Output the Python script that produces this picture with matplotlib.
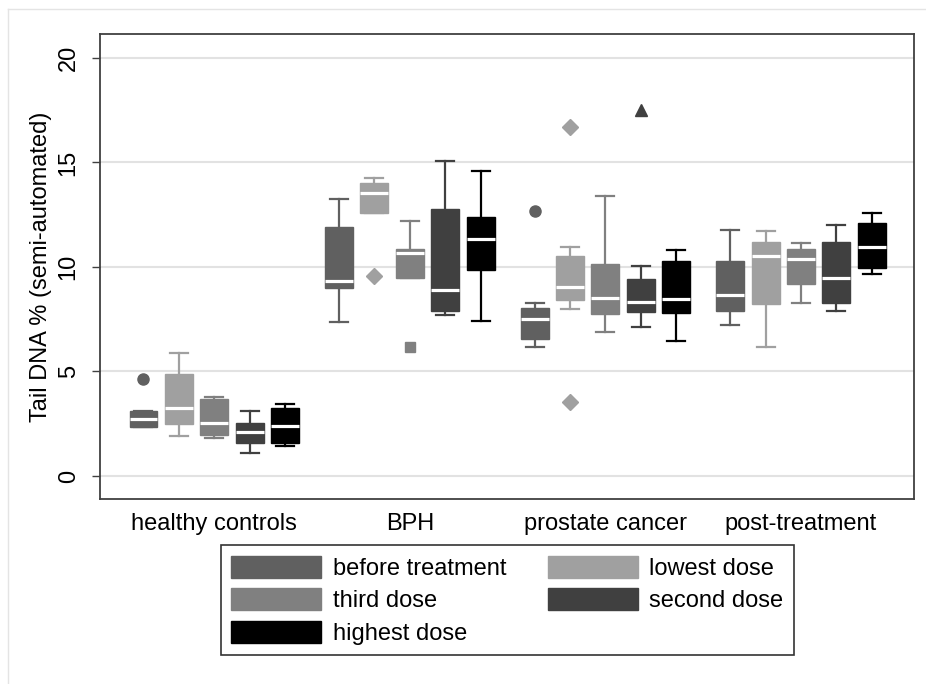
import matplotlib.pyplot as plt
import numpy as np
from matplotlib.patches import Patch
from matplotlib.lines import Line2D

plt.rcParams['font.family'] = ['Liberation Sans', 'DejaVu Sans']

groups = ['healthy controls', 'BPH', 'prostate cancer', 'post-treatment']
series = ['before treatment', 'lowest dose', 'third dose', 'second dose', 'highest dose']
colors = ['#606060', '#a0a0a0', '#808080', '#404040', '#000000']
markers = ['o', 'D', 's', '^', 'x']
marker_sizes = [8, 8, 7.5, 8, 7]

# rows = series, columns = groups
whis_lo = [[2.33, 7.35, 6.17, 7.24],
           [1.90, 12.57, 8.01, 6.17],
           [1.80, 9.49, 6.88, 8.26],
           [1.09, 7.69, 7.15, 7.89],
           [1.42, 7.40, 6.44, 9.68]]
q1 = [[2.36, 9.01, 6.56, 7.91],
      [2.50, 12.57, 8.41, 8.25],
      [1.96, 9.49, 7.75, 9.20],
      [1.58, 7.89, 7.85, 8.28],
      [1.56, 9.86, 7.80, 9.95]]
med = [[2.74, 9.33, 7.50, 8.68],
       [3.27, 13.54, 9.06, 10.51],
       [2.52, 10.67, 8.52, 10.40],
       [2.09, 8.90, 8.31, 9.47],
       [2.41, 11.32, 8.45, 10.96]]
q3 = [[3.12, 11.93, 8.04, 10.30],
      [4.87, 14.03, 10.53, 11.20],
      [3.68, 10.88, 10.14, 10.88],
      [2.52, 12.79, 9.43, 11.21],
      [3.24, 12.41, 10.30, 12.12]]
whis_hi = [[3.12, 13.24, 8.28, 11.79],
           [5.89, 14.26, 10.97, 11.72],
           [3.80, 12.22, 13.38, 11.13],
           [3.10, 15.07, 10.05, 11.99],
           [3.43, 14.59, 10.80, 12.58]]
outliers = [[[4.63], [], [12.68], []],
            [[], [9.57], [16.70, 3.56], []],
            [[], [6.19], [], []],
            [[], [], [17.51], []],
            [[], [], [], []]]

offsets = [-0.362, -0.181, 0.0, 0.181, 0.362]
BOX_W = 0.143
CAP_W = 0.092
FS = 17

fig = plt.figure(figsize=(9.26, 6.84), dpi=100)
ax = fig.add_axes([0.1085, 0.2705, 0.8785, 0.6802])

x = np.arange(1, len(groups) + 1)
for i, name in enumerate(series):
    stats = []
    for j in range(len(groups)):
        stats.append({'whislo': whis_lo[i][j], 'q1': q1[i][j], 'med': med[i][j],
                      'q3': q3[i][j], 'whishi': whis_hi[i][j],
                      'fliers': outliers[i][j]})
    c = colors[i]
    ax.bxp(stats, positions=x + offsets[i], widths=BOX_W, capwidths=CAP_W,
           patch_artist=True, showfliers=True,
           boxprops=dict(facecolor=c, edgecolor=c, linewidth=1),
           whiskerprops=dict(color=c, linewidth=1.6),
           capprops=dict(color=c, linewidth=1.6),
           medianprops=dict(color='white', linewidth=2.3),
           flierprops=dict(marker=markers[i], markerfacecolor=c, markeredgecolor=c,
                           markersize=marker_sizes[i], linestyle='none'))

ax.set_xlim(0.418, 4.578)
ax.set_ylim(-1.10, 21.16)
ax.set_yticks([0, 5, 10, 15, 20])
ax.set_yticklabels(['0', '5', '10', '15', '20'], rotation=90, va='center')
ax.set_xticks(x)
ax.set_xticklabels(groups)
ax.tick_params(axis='y', length=6, width=1, color='#404040', labelsize=FS, pad=9)
ax.tick_params(axis='x', length=0, labelsize=FS, pad=10)
ax.yaxis.grid(True, color='#e2e2e2', linewidth=1.5)
ax.set_axisbelow(True)
for sp in ax.spines.values():
    sp.set_color('#404040')
    sp.set_linewidth(1.3)
ax.set_ylabel('Tail DNA % (semi-automated)', fontsize=FS, labelpad=4)

# outer frame (top and left edges only)
fig.add_artist(Line2D([8 / 926, 1], [1 - 9 / 684, 1 - 9 / 684], color='#e4e4e4', lw=1))
fig.add_artist(Line2D([8 / 926, 8 / 926], [0, 1 - 9 / 684], color='#e4e4e4', lw=1))

order = [0, 2, 4, 1, 3]
handles = [Patch(facecolor=colors[k], edgecolor=colors[k], label=series[k]) for k in order]
leg = fig.legend(handles=handles, loc='upper center', bbox_to_anchor=(0.548, 0.2032),
                 ncol=2, fontsize=FS, frameon=True, fancybox=False,
                 handlelength=3.8, handleheight=1.05, handletextpad=0.5,
                 labelspacing=0.36, columnspacing=1.75, borderpad=0.45,
                 borderaxespad=0)
leg.get_frame().set_edgecolor('black')
leg.get_frame().set_linewidth(1.2)

fig.savefig('out.png', dpi=100)
